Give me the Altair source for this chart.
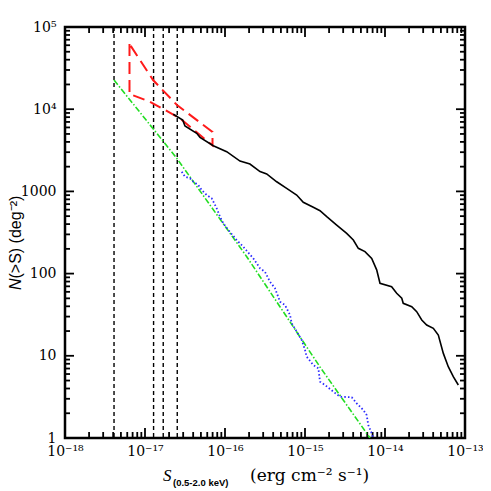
import math
import altair as alt
import pandas as pd

# ---------------- data ----------------
black_S = [2.26e-17, 2.96e-17, 3.16e-17, 4.43e-17, 4.87e-17, 7.14e-17, 1.05e-16, 1.54e-16,
           2.05e-16, 2.74e-16, 3.32e-16, 4.43e-16, 5.90e-16, 7.87e-16, 9.52e-16, 1.27e-15,
           1.54e-15, 1.87e-15, 2.49e-15, 3.32e-15, 4.02e-15, 4.64e-15, 5.62e-15, 6.82e-15,
           7.87e-15, 8.66e-15, 1.21e-14, 1.40e-14, 1.62e-14, 1.69e-14, 2.16e-14, 2.49e-14,
           2.88e-14, 3.32e-14, 4.02e-14, 4.64e-14, 5.36e-14, 6.18e-14, 7.14e-14, 8.25e-14]
black_N = [8670, 7390, 6250, 5090, 4550, 3600, 3040, 2340, 2150, 1740, 1630, 1310, 1090, 904,
           737, 641, 582, 492, 390, 309, 256, 203, 185, 153, 111, 76.2, 69.3, 57.6, 50.1, 43.5,
           39.6, 34.4, 27.3, 23.7, 21.6, 17.9, 10.7, 7.37, 5.57, 4.41]

blue_S = [2.88e-17, 3.16e-17, 3.65e-17, 4.02e-17, 4.64e-17, 5.11e-17, 5.90e-17, 6.82e-17,
          7.87e-17, 8.66e-17, 9.52e-17, 1.10e-16, 1.40e-16, 1.69e-16, 2.26e-16, 2.74e-16,
          3.16e-16, 3.65e-16, 4.22e-16, 4.87e-16, 5.62e-16, 6.49e-16, 6.82e-16, 7.87e-16,
          9.09e-16, 1.0e-15, 1.05e-15, 1.27e-15, 1.47e-15, 1.54e-15, 1.78e-15, 2.26e-15,
          2.74e-15, 3.84e-15, 4.43e-15, 5.36e-15, 5.90e-15, 6.18e-15, 6.82e-15, 7.14e-15]
blue_N = [1738, 1510, 1443, 1312, 1197, 1040, 904, 824, 623, 492, 409, 339, 256, 212, 153, 116,
          105, 79.7, 66.2, 45.5, 41.5, 31.4, 24.9, 19.7, 15.6, 11.8, 9.75, 7.73, 7.05, 4.84, 4.41,
          3.66, 3.18, 3.13, 2.64, 2.19, 1.90, 1.44, 1.14, 1.0]

green_S = [4.1e-18, 2.48e-17, 1.87e-16, 1.54e-15, 6.49e-15]
green_N = [22650, 2548, 160.6, 7.31, 1.0]

red_S = [6.40e-18, 6.40e-18, 1.15e-17, 2.74e-17, 6.98e-17, 6.98e-17, 2.51e-17, 1.26e-17, 6.40e-18]
red_N = [62100, 15300, 12340, 7750, 3620, 5280, 11250, 22650, 62100]

vline_S = [4.1e-18, 1.28e-17, 1.69e-17, 2.53e-17]

x_major = [1e-18, 1e-17, 1e-16, 1e-15, 1e-14, 1e-13]
x_major_labels = ["10⁻¹⁸", "10⁻¹⁷", "10⁻¹⁶", "10⁻¹⁵", "10⁻¹⁴", "10⁻¹³"]
y_major = [1.0, 10.0, 100.0, 1000.0, 1e4, 1e5]
y_major_labels = ["1", "10", "100", "1000", "10⁴", "10⁵"]

x_minor = [k * d for d in x_major[:-1] for k in range(2, 10)]
y_minor = [k * d for d in y_major[:-1] for k in range(2, 10)]

W, H = 400, 411


def label_expr(values, labels):
    expr = "''"
    for v, lab in zip(values, labels):
        e = round(math.log10(v))
        expr = f"round(log(datum.value)/LN10) == {e} ? '{lab}' : ({expr})"
    return expr


xs = alt.Scale(type="log", domain=[1e-18, 1e-13], nice=False)
ys = alt.Scale(type="log", domain=[1, 1e5], nice=False)

lab_axis_x = alt.Axis(orient="bottom", values=x_major, ticks=False, domain=False, grid=False,
                      title=None, labelExpr=label_expr(x_major, x_major_labels),
                      labelPadding=6, labelFont="DejaVu Serif", labelFontSize=14,
                      labelColor="black", labelFlush=False, labelOverlap=False, labelBound=False)
lab_axis_y = alt.Axis(orient="left", values=y_major, ticks=False, domain=False, grid=False,
                      title=None, labelExpr=label_expr(y_major, y_major_labels),
                      labelPadding=9, labelFont="DejaVu Serif", labelFontSize=14,
                      labelColor="black", labelFlush=False, labelOverlap=False, labelBound=False)

df_black = pd.DataFrame({"S": black_S, "N": black_N, "i": range(len(black_S))})
df_blue = pd.DataFrame({"S": blue_S, "N": blue_N, "i": range(len(blue_S))})
df_green = pd.DataFrame({"S": green_S, "N": green_N, "i": range(len(green_S))})
df_red = pd.DataFrame({"S": red_S, "N": red_N, "i": range(len(red_S))})
df_v = pd.DataFrame({"S": vline_S})

vlines = alt.Chart(df_v).mark_rule(color="black", strokeWidth=1.4, strokeDash=[4, 3]).encode(
    x=alt.X("S:Q", scale=xs, axis=None))

red = alt.Chart(df_red).mark_line(color="#ff1a1a", strokeWidth=2, strokeDash=[12, 6], clip=True).encode(
    x=alt.X("S:Q", scale=xs, axis=None), y=alt.Y("N:Q", scale=ys, axis=None), order="i:Q")

green = alt.Chart(df_green).mark_line(color="#22dd22", strokeWidth=1.6, strokeDash=[6, 2, 1.5, 2], clip=True).encode(
    x=alt.X("S:Q", scale=xs, axis=None), y=alt.Y("N:Q", scale=ys, axis=None), order="i:Q")

blue = alt.Chart(df_blue).mark_line(color="#2a2aff", strokeWidth=1.8, strokeDash=[1.5, 2.2], clip=True).encode(
    x=alt.X("S:Q", scale=xs, axis=None), y=alt.Y("N:Q", scale=ys, axis=None), order="i:Q")

black = alt.Chart(df_black).mark_line(color="black", strokeWidth=1.6, clip=True).encode(
    x=alt.X("S:Q", scale=xs, axis=lab_axis_x), y=alt.Y("N:Q", scale=ys, axis=lab_axis_y),
    order="i:Q")

# inward tick marks on all four sides, positioned through the scales
dx_maj = pd.DataFrame({"S": x_major})
dx_min = pd.DataFrame({"S": x_minor})
dy_maj = pd.DataFrame({"N": y_major})
dy_min = pd.DataFrame({"N": y_minor})


def xtick(df, y0, y1, w=1.8):
    return alt.Chart(df).mark_rule(color="black", strokeWidth=w).encode(
        x=alt.X("S:Q", scale=xs, axis=None), y=alt.value(y0), y2=alt.value(y1))


def ytick(df, x0, x1, w=1.8):
    return alt.Chart(df).mark_rule(color="black", strokeWidth=w).encode(
        y=alt.Y("N:Q", scale=ys, axis=None), x=alt.value(x0), x2=alt.value(x1))


ticks = [xtick(dx_maj, H, H - 10), xtick(dx_min, H, H - 6),
         xtick(dx_maj, 0, 10), xtick(dx_min, 0, 6),
         ytick(dy_maj, 0, 9), ytick(dy_min, 0, 5),
         ytick(dy_maj, W, W - 9), ytick(dy_min, W, W - 5)]


def txt(s, x, y, font, size, style="normal", weight="normal", angle=0):
    return alt.Chart(pd.DataFrame({"t": [s]})).mark_text(
        font=font, fontSize=size, fontStyle=style, fontWeight=weight, angle=angle,
        align="left", baseline="alphabetic", color="black").encode(
        text="t:N", x=alt.value(x), y=alt.value(y))


titles = [
    txt("N", -44, 263, "Liberation Sans", 16, style="italic", angle=270),
    txt("(>S)  (deg⁻²)", -44, 251.5, "Liberation Sans", 16, angle=270),
    txt("S", 98, 454, "Liberation Serif", 17, style="italic"),
    txt("(0.5-2.0 keV)", 108, 459, "Liberation Sans", 9.5, weight="bold"),
    txt("(erg cm⁻² s⁻¹)", 185, 454, "DejaVu Serif", 17),
]

chart = alt.layer(*ticks, vlines, red, green, blue, black, *titles).resolve_axis(
    x="independent", y="independent"
).properties(
    width=W, height=H,
    padding={"left": 57, "top": 19, "right": 18, "bottom": 50},
    autosize=alt.AutoSizeParams(type="none"),
).configure_view(stroke="black", strokeWidth=2.5)

chart.save("out.html", embed_options={"renderer": "svg", "actions": False})
